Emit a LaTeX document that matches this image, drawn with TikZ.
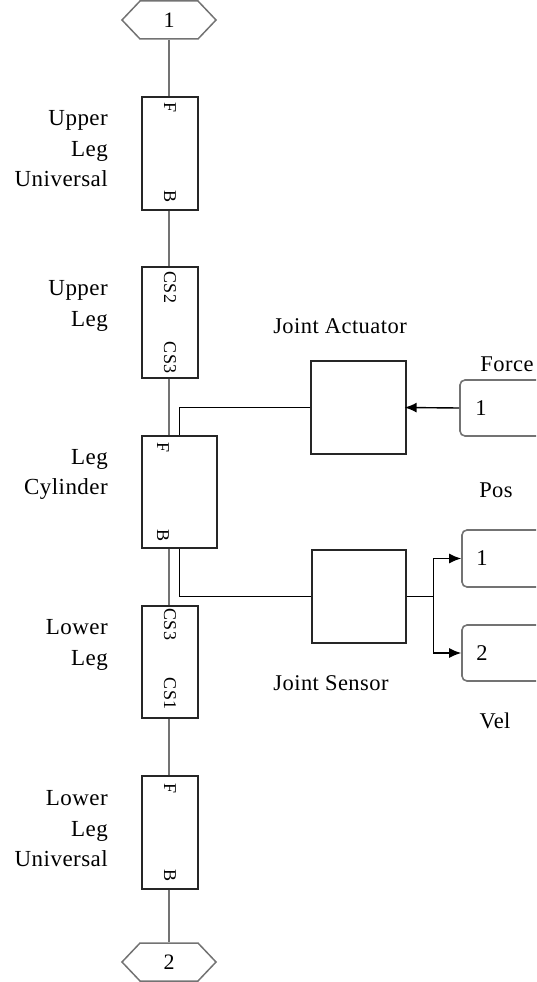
\documentclass[tikz,border=0pt]{standalone}
\usepackage{fontspec}
\setmainfont{Liberation Serif}[LetterSpace=2]
\usetikzlibrary{shapes.symbols,arrows.meta}
\tikzset{
  block/.style={draw=black!85, line width=1.3pt, fill=white, inner sep=0pt},
  phys/.style={draw=black!55, line width=1.6pt},
  sig/.style={draw=black, line width=1.4pt},
  portlbl/.style={font=\fontsize{18}{18}\selectfont, rotate=-90, inner sep=0pt},
  lbl/.style={font=\fontsize{23}{30.5}\selectfont, align=right, anchor=east, inner sep=0pt},
  txt/.style={font=\fontsize{22.5}{24}\selectfont, inner sep=0pt},
  outp/.style={draw=black!55, rounded corners=5pt, line width=1.6pt, inner sep=0pt},
  hexport/.style={draw=black!55, line width=1.5pt, shape=signal, signal to=east and west,
    signal pointer angle=93, minimum width=94pt, minimum height=38pt, inner sep=0pt,
    font=\fontsize{22}{24}\selectfont},
  tip/.style={-{Latex[length=12pt,width=10pt]}}
}
\begin{document}
\begin{tikzpicture}[x=1pt,y=-1pt]
\useasboundingbox (0,0) rectangle (536,982);
\clip (0,0) rectangle (536,982);
% hexagon ports
\node[hexport] (in1) at (169,20) {1};
\node[hexport] (in2) at (169,962) {2};
% body blocks
\node[block, minimum width=56pt, minimum height=113pt] (uu) at (170,153.5) {};
\node[block, minimum width=56pt, minimum height=111pt] (ul) at (170,322.5) {};
\node[block, minimum width=75pt, minimum height=112pt] (lc) at (179.5,492) {};
\node[block, minimum width=56pt, minimum height=112pt] (ll) at (170,662) {};
\node[block, minimum width=56pt, minimum height=113pt] (lu) at (170,832.5) {};
% actuator / sensor
\node[block, minimum width=95pt, minimum height=93pt] (ja) at (358.5,407.5) {};
\node[block, minimum width=94pt, minimum height=93pt] (js) at (359,596.5) {};
% in/out ports
\node[outp, minimum width=85pt, minimum height=56pt] (force) at (502.5,408) {};
\node[outp, minimum width=83pt, minimum height=57pt] (pos) at (503.5,558.5) {};
\node[outp, minimum width=83pt, minimum height=56pt] (vel) at (503.5,653) {};
\node[txt, anchor=west] (forcenum) at ([xshift=16pt]force.west) {1};
\node[txt, anchor=west] (posnum) at ([xshift=15pt]pos.west) {1};
\node[txt, anchor=west] (velnum) at ([xshift=15pt]vel.west) {2};
% port labels
\node[portlbl] (uuF) at ([yshift=-11pt]uu.north) {F};
\node[portlbl] (uuB) at ([yshift=14pt]uu.south) {B};
\node[portlbl] (ulA) at ([yshift=-21pt]ul.north) {CS2};
\node[portlbl] (ulB) at ([yshift=21pt]ul.south) {CS3};
\node[portlbl] (lcF) at ([xshift=-16.5pt,yshift=-12pt]lc.north) {F};
\node[portlbl] (lcB) at ([xshift=-16.5pt,yshift=13pt]lc.south) {B};
\node[portlbl] (llA) at ([yshift=-19pt]ll.north) {CS3};
\node[portlbl] (llB) at ([yshift=25pt]ll.south) {CS1};
\node[portlbl] (luF) at ([yshift=-13pt]lu.north) {F};
\node[portlbl] (luB) at ([yshift=14pt]lu.south) {B};
% block names
\node[lbl] (nuu) at (108,149) {Upper\\Leg\\Universal};
\node[lbl] (nul) at (108,306) {Upper\\Leg};
\node[lbl] (nlc) at (108,474.5) {Leg\\Cylinder};
\node[lbl] (nll) at (108,645) {Lower\\Leg};
\node[lbl] (nlu) at (108,829) {Lower\\Leg\\Universal};
\node[txt] (nja) at (340,326) {Joint Actuator};
\node[txt] (njs) at (331,683) {Joint Sensor};
\node[txt] (nforce) at (507,364) {Force};
\node[txt] (npos) at (496,490) {Pos};
\node[txt] (nvel) at (495,721) {Vel};
% physical connections
\draw[phys] (in1.south) -- (in1.south |- uu.north);
\draw[phys] (uu.south -| in1) -- (ul.north -| in1);
\draw[phys] (ul.south -| in1) -- (lc.north -| in1);
\draw[phys] (lc.south -| in1) -- (ll.north -| in1);
\draw[phys] (ll.south -| in1) -- (lu.north -| in1);
\draw[phys] (lu.south -| in1) -- (in2.north);
% signal connections
\draw[sig] (ja.west) -| (lc.north);
\draw[sig] (lc.south) |- (js.west);
\draw[sig, tip] (force.west) -- ([xshift=-2pt]ja.east);
\draw[sig] (js.east) -- ++(27,0) coordinate (br);
\draw[sig, tip] (br) |- (pos.west);
\draw[sig, tip] (br) |- (vel.west);
\end{tikzpicture}
\end{document}
